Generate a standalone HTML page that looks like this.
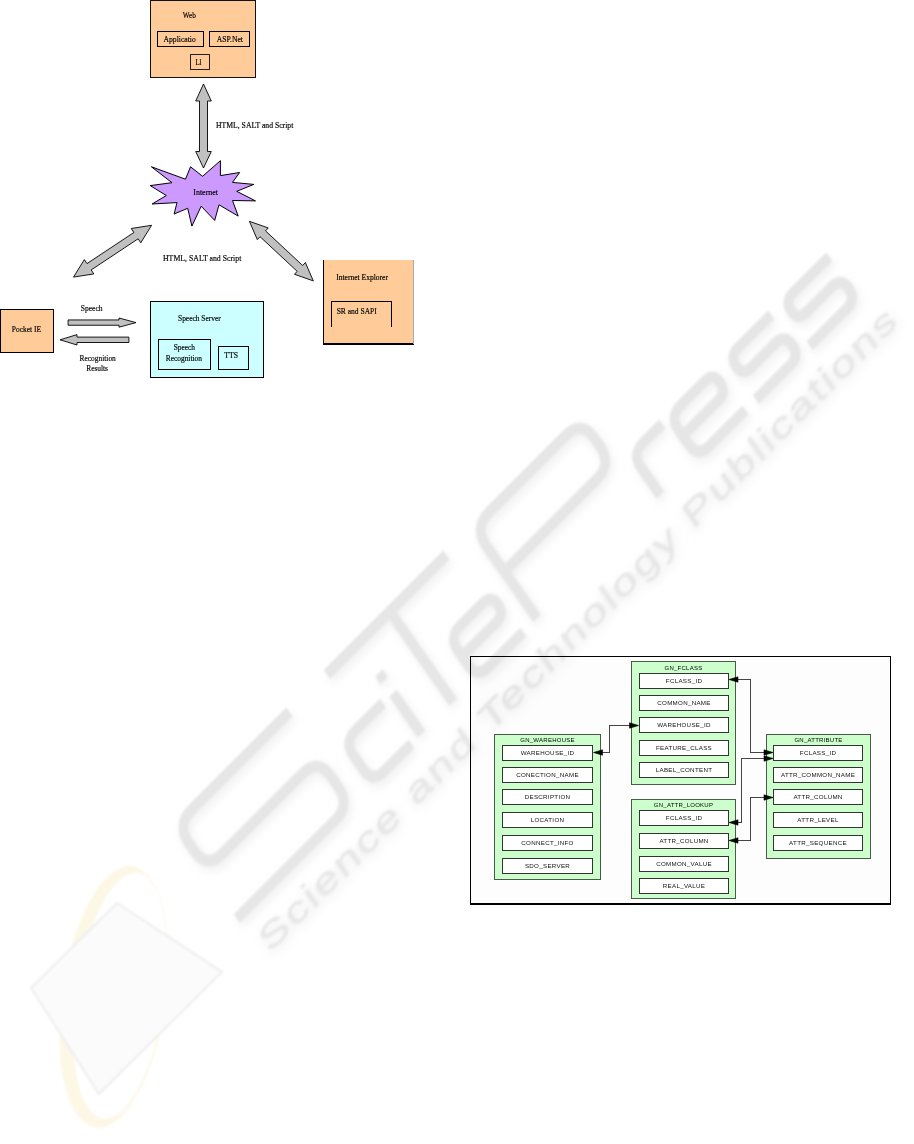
<!DOCTYPE html>
<html><head><meta charset="utf-8"><style>
html,body{margin:0;padding:0;background:#fff;}
body{width:914px;height:1144px;overflow:hidden;position:relative;font-family:"Liberation Serif",serif;}
svg{position:absolute;left:0;top:0;will-change:transform;}
</style></head><body>
<svg width="914" height="1144" viewBox="0 0 914 1144">
<rect x="150.5" y="0.5" width="105" height="77" fill="#ffcc99" stroke="#111" stroke-width="1" shape-rendering="crispEdges"/>
<rect x="157.5" y="31.5" width="46" height="15" fill="none" stroke="#000" stroke-width="1" shape-rendering="crispEdges"/>
<rect x="209.5" y="31.5" width="40" height="15" fill="none" stroke="#000" stroke-width="1" shape-rendering="crispEdges"/>
<rect x="190.5" y="54.5" width="19" height="15" fill="none" stroke="#222" stroke-width="1" shape-rendering="crispEdges"/>
<text x="182.7" y="18.26" font-size="8.8" textLength="13.10" lengthAdjust="spacingAndGlyphs" fill="#000" stroke="#000" stroke-width="0.18" style='font-family:Liberation Serif'>Web</text>
<text x="163.5" y="42.06" font-size="8.8" textLength="32.30" lengthAdjust="spacingAndGlyphs" fill="#000" stroke="#000" stroke-width="0.18" style='font-family:Liberation Serif'>Applicatio</text>
<text x="216.8" y="42.06" font-size="8.8" textLength="26.20" lengthAdjust="spacingAndGlyphs" fill="#000" stroke="#000" stroke-width="0.18" style='font-family:Liberation Serif'>ASP.Net</text>
<text x="195.5" y="65.16" font-size="8.8" textLength="6.00" lengthAdjust="spacingAndGlyphs" fill="#000" stroke="#000" stroke-width="0.18" style='font-family:Liberation Serif'>Ll</text>
<polygon points="203.50,84.00 195.70,101.00 199.50,101.00 199.50,151.50 195.70,151.50 203.50,168.00 211.30,151.50 207.50,151.50 207.50,101.00 211.30,101.00" fill="#c0c0c0" stroke="#000" stroke-width="0.9" stroke-linejoin="miter"/>
<text x="216" y="127.66" font-size="8.8" textLength="77.30" lengthAdjust="spacingAndGlyphs" fill="#000" stroke="#000" stroke-width="0.18" style='font-family:Liberation Serif'>HTML, SALT and Script</text>
<polygon points="151.4,166.8 185.5,179.2 190.5,166.8 202.6,176.3 220.4,160.7 220.4,175.6 239.6,172.5 232.5,182.4 253.8,184.4 236.7,191.3 255.5,200.9 232.5,200.5 238.2,216.1 219,204.8 214.7,220.4 201.2,206.2 191.9,226.1 187.7,208.3 174.1,214 177,202.6 152.1,204 166.3,195.5 150.2,185.6 172,182.7" fill="#cc99ff" stroke="#000" stroke-width="1"/>
<text x="193.3" y="194.56" font-size="8.8" textLength="24.70" lengthAdjust="spacingAndGlyphs" fill="#000" stroke="#000" stroke-width="0.18" style='font-family:Liberation Serif'>Internet</text>
<polygon points="151.60,225.30 131.26,228.47 133.92,232.47 86.98,263.60 84.33,259.60 73.50,277.10 93.84,273.93 91.18,269.93 138.12,238.80 140.77,242.80" fill="#c0c0c0" stroke="#000" stroke-width="0.9" stroke-linejoin="miter"/>
<polygon points="249.40,221.30 257.33,239.63 260.05,236.71 297.19,271.34 294.46,274.27 313.30,280.90 305.37,262.57 302.65,265.49 265.51,230.86 268.24,227.93" fill="#c0c0c0" stroke="#000" stroke-width="0.9" stroke-linejoin="miter"/>
<text x="163" y="260.66" font-size="8.8" textLength="78.30" lengthAdjust="spacingAndGlyphs" fill="#000" stroke="#000" stroke-width="0.18" style='font-family:Liberation Serif'>HTML, SALT and Script</text>
<rect x="0.5" y="309.5" width="53" height="43" fill="#ffcc99" stroke="#000" stroke-width="1" shape-rendering="crispEdges"/>
<text x="11.8" y="331.56" font-size="8.8" textLength="29.20" lengthAdjust="spacingAndGlyphs" fill="#000" stroke="#000" stroke-width="0.18" style='font-family:Liberation Serif'>Pocket IE</text>
<text x="80.8" y="311.26" font-size="8.8" textLength="21.80" lengthAdjust="spacingAndGlyphs" fill="#000" stroke="#000" stroke-width="0.18" style='font-family:Liberation Serif'>Speech</text>
<polygon points="68.10,325.25 119.00,325.25 119.00,327.20 136.00,322.60 119.00,318.00 119.00,319.95 68.10,319.95" fill="#c0c0c0" stroke="#000" stroke-width="0.9"/>
<polygon points="128.90,337.10 77.00,337.10 77.00,334.60 60.00,339.80 77.00,345.00 77.00,342.50 128.90,342.50" fill="#c0c0c0" stroke="#000" stroke-width="0.9"/>
<text x="79.6" y="361.36" font-size="8.8" textLength="36.20" lengthAdjust="spacingAndGlyphs" fill="#000" stroke="#000" stroke-width="0.18" style='font-family:Liberation Serif'>Recognition</text>
<text x="86.2" y="371.26" font-size="8.8" textLength="21.80" lengthAdjust="spacingAndGlyphs" fill="#000" stroke="#000" stroke-width="0.18" style='font-family:Liberation Serif'>Results</text>
<rect x="150.5" y="301.5" width="113" height="76" fill="#ccffff" stroke="#000" stroke-width="1" shape-rendering="crispEdges"/>
<text x="178" y="321.26" font-size="8.8" textLength="42.70" lengthAdjust="spacingAndGlyphs" fill="#000" stroke="#000" stroke-width="0.18" style='font-family:Liberation Serif'>Speech Server</text>
<rect x="158.5" y="339.5" width="52" height="30" fill="none" stroke="#000" stroke-width="1" shape-rendering="crispEdges"/>
<text x="173.7" y="349.96" font-size="8.8" textLength="21.30" lengthAdjust="spacingAndGlyphs" fill="#000" stroke="#000" stroke-width="0.18" style='font-family:Liberation Serif'>Speech</text>
<text x="165.7" y="360.66" font-size="8.8" textLength="36.30" lengthAdjust="spacingAndGlyphs" fill="#000" stroke="#000" stroke-width="0.18" style='font-family:Liberation Serif'>Recognition</text>
<rect x="218.5" y="346.5" width="30" height="23" fill="none" stroke="#000" stroke-width="1" shape-rendering="crispEdges"/>
<text x="224.2" y="358.26" font-size="8.8" textLength="13.80" lengthAdjust="spacingAndGlyphs" fill="#000" stroke="#000" stroke-width="0.18" style='font-family:Liberation Serif'>TTS</text>
<rect x="323" y="260" width="91" height="84" fill="#ffcc99"/>
<rect x="323" y="260" width="1" height="84" fill="#000"/>
<rect x="323" y="343" width="91" height="2" fill="#000"/>
<rect x="413" y="260" width="1" height="84" fill="#aaa"/>
<polyline points="331.5,327 331.5,301.5 391.5,301.5 391.5,327" fill="none" stroke="#000" stroke-width="1" shape-rendering="crispEdges"/>
<text x="336.2" y="279.96" font-size="8.8" textLength="51.80" lengthAdjust="spacingAndGlyphs" fill="#000" stroke="#000" stroke-width="0.18" style='font-family:Liberation Serif'>Internet Explorer</text>
<text x="336.7" y="314.36" font-size="8.8" textLength="40.10" lengthAdjust="spacingAndGlyphs" fill="#000" stroke="#000" stroke-width="0.18" style='font-family:Liberation Serif'>SR and SAPI</text>
<rect x="470" y="656" width="421" height="249" fill="#fdfdfd"/>
<rect x="470" y="656" width="421" height="1" fill="#000"/>
<rect x="470" y="656" width="1" height="249" fill="#000"/>
<rect x="890" y="656" width="1" height="249" fill="#000"/>
<rect x="470" y="903" width="421" height="2" fill="#000"/>
<rect x="631.5" y="661.5" width="104" height="123" fill="#ccffcc" stroke="#4a5a4a" stroke-width="1" shape-rendering="crispEdges"/>
<text x="683.5" y="669.6" font-size="6.0" text-anchor="middle" fill="#000" letter-spacing="0.25" font-weight="normal" style='font-family:"Liberation Sans",sans-serif'>GN_FCLASS</text>
<rect x="639.5" y="673.5" width="89" height="15" fill="#fff" stroke="#333" stroke-width="1" shape-rendering="crispEdges"/>
<text x="684.0" y="682.6" font-size="6.2" text-anchor="middle" fill="#111" letter-spacing="0.3" font-weight="normal" style='font-family:"Liberation Sans",sans-serif'>FCLASS_ID</text>
<rect x="639.5" y="695.5" width="89" height="15" fill="#fff" stroke="#333" stroke-width="1" shape-rendering="crispEdges"/>
<text x="684.0" y="704.6" font-size="6.2" text-anchor="middle" fill="#111" letter-spacing="0.3" font-weight="normal" style='font-family:"Liberation Sans",sans-serif'>COMMON_NAME</text>
<rect x="639.5" y="717.5" width="89" height="15" fill="#fff" stroke="#333" stroke-width="1" shape-rendering="crispEdges"/>
<text x="684.0" y="726.6" font-size="6.2" text-anchor="middle" fill="#111" letter-spacing="0.3" font-weight="normal" style='font-family:"Liberation Sans",sans-serif'>WAREHOUSE_ID</text>
<rect x="639.5" y="740.5" width="89" height="15" fill="#fff" stroke="#333" stroke-width="1" shape-rendering="crispEdges"/>
<text x="684.0" y="749.6" font-size="6.2" text-anchor="middle" fill="#111" letter-spacing="0.3" font-weight="normal" style='font-family:"Liberation Sans",sans-serif'>FEATURE_CLASS</text>
<rect x="639.5" y="762.5" width="89" height="15" fill="#fff" stroke="#333" stroke-width="1" shape-rendering="crispEdges"/>
<text x="684.0" y="771.6" font-size="6.2" text-anchor="middle" fill="#111" letter-spacing="0.3" font-weight="normal" style='font-family:"Liberation Sans",sans-serif'>LABEL_CONTENT</text>
<rect x="494.5" y="734.5" width="106" height="145" fill="#ccffcc" stroke="#4a5a4a" stroke-width="1" shape-rendering="crispEdges"/>
<text x="547.5" y="742" font-size="6.0" text-anchor="middle" fill="#000" letter-spacing="0.25" font-weight="normal" style='font-family:"Liberation Sans",sans-serif'>GN_WAREHOUSE</text>
<rect x="502.5" y="745.5" width="90" height="15" fill="#fff" stroke="#333" stroke-width="1" shape-rendering="crispEdges"/>
<text x="547.5" y="754.6" font-size="6.2" text-anchor="middle" fill="#111" letter-spacing="0.3" font-weight="normal" style='font-family:"Liberation Sans",sans-serif'>WAREHOUSE_ID</text>
<rect x="502.5" y="767.5" width="90" height="15" fill="#fff" stroke="#333" stroke-width="1" shape-rendering="crispEdges"/>
<text x="547.5" y="776.6" font-size="6.2" text-anchor="middle" fill="#111" letter-spacing="0.3" font-weight="normal" style='font-family:"Liberation Sans",sans-serif'>CONECTION_NAME</text>
<rect x="502.5" y="789.5" width="90" height="15" fill="#fff" stroke="#333" stroke-width="1" shape-rendering="crispEdges"/>
<text x="547.5" y="798.6" font-size="6.2" text-anchor="middle" fill="#111" letter-spacing="0.3" font-weight="normal" style='font-family:"Liberation Sans",sans-serif'>DESCRIPTION</text>
<rect x="502.5" y="812.5" width="90" height="15" fill="#fff" stroke="#333" stroke-width="1" shape-rendering="crispEdges"/>
<text x="547.5" y="821.6" font-size="6.2" text-anchor="middle" fill="#111" letter-spacing="0.3" font-weight="normal" style='font-family:"Liberation Sans",sans-serif'>LOCATION</text>
<rect x="502.5" y="835.5" width="90" height="15" fill="#fff" stroke="#333" stroke-width="1" shape-rendering="crispEdges"/>
<text x="547.5" y="844.6" font-size="6.2" text-anchor="middle" fill="#111" letter-spacing="0.3" font-weight="normal" style='font-family:"Liberation Sans",sans-serif'>CONNECT_INFO</text>
<rect x="502.5" y="858.5" width="90" height="15" fill="#fff" stroke="#333" stroke-width="1" shape-rendering="crispEdges"/>
<text x="547.5" y="867.6" font-size="6.2" text-anchor="middle" fill="#111" letter-spacing="0.3" font-weight="normal" style='font-family:"Liberation Sans",sans-serif'>SDO_SERVER</text>
<rect x="766.5" y="734.5" width="104" height="124" fill="#ccffcc" stroke="#4a5a4a" stroke-width="1" shape-rendering="crispEdges"/>
<text x="818.5" y="742" font-size="6.0" text-anchor="middle" fill="#000" letter-spacing="0.25" font-weight="normal" style='font-family:"Liberation Sans",sans-serif'>GN_ATTRIBUTE</text>
<rect x="773.5" y="745.5" width="89" height="15" fill="#fff" stroke="#333" stroke-width="1" shape-rendering="crispEdges"/>
<text x="818.0" y="754.6" font-size="6.2" text-anchor="middle" fill="#111" letter-spacing="0.3" font-weight="normal" style='font-family:"Liberation Sans",sans-serif'>FCLASS_ID</text>
<rect x="773.5" y="767.5" width="89" height="15" fill="#fff" stroke="#333" stroke-width="1" shape-rendering="crispEdges"/>
<text x="818.0" y="776.6" font-size="6.2" text-anchor="middle" fill="#111" letter-spacing="0.3" font-weight="normal" style='font-family:"Liberation Sans",sans-serif'>ATTR_COMMON_NAME</text>
<rect x="773.5" y="789.5" width="89" height="15" fill="#fff" stroke="#333" stroke-width="1" shape-rendering="crispEdges"/>
<text x="818.0" y="798.6" font-size="6.2" text-anchor="middle" fill="#111" letter-spacing="0.3" font-weight="normal" style='font-family:"Liberation Sans",sans-serif'>ATTR_COLUMN</text>
<rect x="773.5" y="812.5" width="89" height="15" fill="#fff" stroke="#333" stroke-width="1" shape-rendering="crispEdges"/>
<text x="818.0" y="821.6" font-size="6.2" text-anchor="middle" fill="#111" letter-spacing="0.3" font-weight="normal" style='font-family:"Liberation Sans",sans-serif'>ATTR_LEVEL</text>
<rect x="773.5" y="835.5" width="89" height="15" fill="#fff" stroke="#333" stroke-width="1" shape-rendering="crispEdges"/>
<text x="818.0" y="844.6" font-size="6.2" text-anchor="middle" fill="#111" letter-spacing="0.3" font-weight="normal" style='font-family:"Liberation Sans",sans-serif'>ATTR_SEQUENCE</text>
<rect x="631.5" y="799.5" width="104" height="99" fill="#ccffcc" stroke="#4a5a4a" stroke-width="1" shape-rendering="crispEdges"/>
<text x="683.5" y="806.6" font-size="6.0" text-anchor="middle" fill="#000" letter-spacing="0.25" font-weight="normal" style='font-family:"Liberation Sans",sans-serif'>GN_ATTR_LOOKUP</text>
<rect x="639.5" y="810.5" width="89" height="15" fill="#fff" stroke="#333" stroke-width="1" shape-rendering="crispEdges"/>
<text x="684.0" y="819.6" font-size="6.2" text-anchor="middle" fill="#111" letter-spacing="0.3" font-weight="normal" style='font-family:"Liberation Sans",sans-serif'>FCLASS_ID</text>
<rect x="639.5" y="833.5" width="89" height="15" fill="#fff" stroke="#333" stroke-width="1" shape-rendering="crispEdges"/>
<text x="684.0" y="842.6" font-size="6.2" text-anchor="middle" fill="#111" letter-spacing="0.3" font-weight="normal" style='font-family:"Liberation Sans",sans-serif'>ATTR_COLUMN</text>
<rect x="639.5" y="856.5" width="89" height="15" fill="#fff" stroke="#333" stroke-width="1" shape-rendering="crispEdges"/>
<text x="684.0" y="865.6" font-size="6.2" text-anchor="middle" fill="#111" letter-spacing="0.3" font-weight="normal" style='font-family:"Liberation Sans",sans-serif'>COMMON_VALUE</text>
<rect x="639.5" y="878.5" width="89" height="15" fill="#fff" stroke="#333" stroke-width="1" shape-rendering="crispEdges"/>
<text x="684.0" y="887.6" font-size="6.2" text-anchor="middle" fill="#111" letter-spacing="0.3" font-weight="normal" style='font-family:"Liberation Sans",sans-serif'>REAL_VALUE</text>
<polyline points="601,752.5 609.5,752.5 609.5,725.5 631,725.5" fill="none" stroke="#444" stroke-width="1" shape-rendering="crispEdges"/>
<polygon points="593.5,752.5 602.5,749.8 602.5,755.2" fill="#000" stroke="#000" stroke-width="0.6"/>
<polygon points="638.5,725.5 629.5,722.8 629.5,728.2" fill="#000" stroke="#000" stroke-width="0.6"/>
<polyline points="737,679.5 750.5,679.5 750.5,752.5 765,752.5" fill="none" stroke="#444" stroke-width="1" shape-rendering="crispEdges"/>
<polygon points="729.0,679.5 738.0,676.8 738.0,682.2" fill="#000" stroke="#000" stroke-width="0.6"/>
<polygon points="773.0,752.5 764.0,749.8 764.0,755.2" fill="#000" stroke="#000" stroke-width="0.6"/>
<polyline points="765,758.5 741.5,758.5 741.5,822.5 737,822.5" fill="none" stroke="#444" stroke-width="1" shape-rendering="crispEdges"/>
<polygon points="773.0,758.5 764.0,755.8 764.0,761.2" fill="#000" stroke="#000" stroke-width="0.6"/>
<polygon points="729.0,822.5 738.0,819.8 738.0,825.2" fill="#000" stroke="#000" stroke-width="0.6"/>
<polyline points="765,797.5 750.5,797.5 750.5,840.5 737,840.5" fill="none" stroke="#444" stroke-width="1" shape-rendering="crispEdges"/>
<polygon points="773.0,797.5 764.0,794.8 764.0,800.2" fill="#000" stroke="#000" stroke-width="0.6"/>
<polygon points="729.0,840.5 738.0,837.8 738.0,843.2" fill="#000" stroke="#000" stroke-width="0.6"/>
<g style="mix-blend-mode:multiply"><defs><filter id="wb" x="-10%" y="-10%" width="120%" height="120%"><feGaussianBlur stdDeviation="1.1"/></filter>
<filter id="ws" x="-10%" y="-10%" width="120%" height="120%"><feGaussianBlur stdDeviation="4"/></filter></defs>
<g transform="translate(3,4) rotate(-45) translate(0,817) skewX(-10)" filter="url(#ws)"><path d="M-318.0,-109.0 L-456.0,-109.0 Q-478.0,-109.0 -478.0,-87.0 L-478.0,-78.0 Q-478.0,-56.0 -456.0,-56.0 L-343.0,-56.0 Q-321.0,-56.0 -321.0,-34.0 L-321.0,-22.0 Q-321.0,0.0 -343.0,0.0 L-482.0,0.0 M-235.0,-49.0 L-274.0,-49.0 Q-290.0,-49.0 -290.0,-33.0 L-290.0,-16.0 Q-290.0,0.0 -274.0,0.0 L-235.0,0.0 M-221,-49 L-221,0 M-221,-64 L-221,-73 M-265,-109 L-96,-109 M-176,-109 L-176,0 M-142.0,-26.0 L-93.5,-26.0 Q-82.0,-26.0 -82.0,-37.5 L-82.0,-37.5 Q-82.0,-49.0 -93.5,-49.0 L-126.0,-49.0 Q-142.0,-49.0 -142.0,-33.0 L-142.0,-16.0 Q-142.0,0.0 -126.0,0.0 L-77.0,0.0 M-57.5,0.0 L-57.5,-87.0 Q-57.5,-109.0 -35.5,-109.0 L73.0,-109.0 Q95.0,-109.0 95.0,-87.0 L95.0,-78.0 Q95.0,-56.0 73.0,-56.0 L-57.5,-56.0 M117.0,0.0 L117.0,-33.0 Q117.0,-49.0 133.0,-49.0 L160.0,-49.0 M170.0,-26.0 L220.5,-26.0 Q232.0,-26.0 232.0,-37.5 L232.0,-37.5 Q232.0,-49.0 220.5,-49.0 L186.0,-49.0 Q170.0,-49.0 170.0,-33.0 L170.0,-16.0 Q170.0,0.0 186.0,0.0 L237.0,0.0 M314.0,-49.0 L266.5,-49.0 Q255.0,-49.0 255.0,-37.5 L255.0,-37.5 Q255.0,-26.0 266.5,-26.0 L301.0,-26.0 Q314.0,-26.0 314.0,-13.0 L314.0,-13.0 Q314.0,0.0 301.0,0.0 L252.0,0.0 M396.0,-49.0 L344.5,-49.0 Q333.0,-49.0 333.0,-37.5 L333.0,-37.5 Q333.0,-26.0 344.5,-26.0 L381.0,-26.0 Q394.0,-26.0 394.0,-13.0 L394.0,-13.0 Q394.0,0.0 381.0,0.0 L328.0,0.0" fill="none" stroke="#f2f2f2" stroke-width="12"/></g>
<g transform="rotate(-45) translate(0,817) skewX(-10)" filter="url(#wb)"><path d="M-318.0,-109.0 L-456.0,-109.0 Q-478.0,-109.0 -478.0,-87.0 L-478.0,-78.0 Q-478.0,-56.0 -456.0,-56.0 L-343.0,-56.0 Q-321.0,-56.0 -321.0,-34.0 L-321.0,-22.0 Q-321.0,0.0 -343.0,0.0 L-482.0,0.0 M-235.0,-49.0 L-274.0,-49.0 Q-290.0,-49.0 -290.0,-33.0 L-290.0,-16.0 Q-290.0,0.0 -274.0,0.0 L-235.0,0.0 M-221,-49 L-221,0 M-221,-64 L-221,-73 M-265,-109 L-96,-109 M-176,-109 L-176,0 M-142.0,-26.0 L-93.5,-26.0 Q-82.0,-26.0 -82.0,-37.5 L-82.0,-37.5 Q-82.0,-49.0 -93.5,-49.0 L-126.0,-49.0 Q-142.0,-49.0 -142.0,-33.0 L-142.0,-16.0 Q-142.0,0.0 -126.0,0.0 L-77.0,0.0 M-57.5,0.0 L-57.5,-87.0 Q-57.5,-109.0 -35.5,-109.0 L73.0,-109.0 Q95.0,-109.0 95.0,-87.0 L95.0,-78.0 Q95.0,-56.0 73.0,-56.0 L-57.5,-56.0 M117.0,0.0 L117.0,-33.0 Q117.0,-49.0 133.0,-49.0 L160.0,-49.0 M170.0,-26.0 L220.5,-26.0 Q232.0,-26.0 232.0,-37.5 L232.0,-37.5 Q232.0,-49.0 220.5,-49.0 L186.0,-49.0 Q170.0,-49.0 170.0,-33.0 L170.0,-16.0 Q170.0,0.0 186.0,0.0 L237.0,0.0 M314.0,-49.0 L266.5,-49.0 Q255.0,-49.0 255.0,-37.5 L255.0,-37.5 Q255.0,-26.0 266.5,-26.0 L301.0,-26.0 Q314.0,-26.0 314.0,-13.0 L314.0,-13.0 Q314.0,0.0 301.0,0.0 L252.0,0.0 M396.0,-49.0 L344.5,-49.0 Q333.0,-49.0 333.0,-37.5 L333.0,-37.5 Q333.0,-26.0 344.5,-26.0 L381.0,-26.0 Q394.0,-26.0 394.0,-13.0 L394.0,-13.0 Q394.0,0.0 381.0,0.0 L328.0,0.0" fill="none" stroke="#e6e6e6" stroke-width="10.5"/></g>
<g transform="translate(2,3) rotate(-45) translate(0,865) skewX(-10) scale(1.45,1)" filter="url(#ws)"><text x="-333.8" y="0" font-size="34" textLength="613.8" lengthAdjust="spacing" fill="#f3f3f3" stroke="#f3f3f3" stroke-width="2.5" style='font-family:"Liberation Sans",sans-serif'>Science and Technology Publications</text></g>
<g transform="rotate(-45) translate(0,865) skewX(-10) scale(1.45,1)" filter="url(#wb)"><text x="-333.8" y="0" font-size="34" textLength="613.8" lengthAdjust="spacing" fill="#e6e6e6" stroke="#e6e6e6" stroke-width="0.3" style='font-family:"Liberation Sans",sans-serif'>Science and Technology Publications</text></g>
<g filter="url(#wb)">
<path transform="rotate(8 114 997)" fill-rule="evenodd" fill="#fdf7e6" d="M62,997 a52,132 0 1,0 104,0 a52,132 0 1,0 -104,0 Z M76,995 a44,124 0 1,0 88,0 a44,124 0 1,0 -88,0 Z"/>
<polygon points="117,903 222,972 99,1094 31,988" fill="#fbfbfb" stroke="#ededed" stroke-width="2"/>
</g></g>
</svg>
</body></html>
